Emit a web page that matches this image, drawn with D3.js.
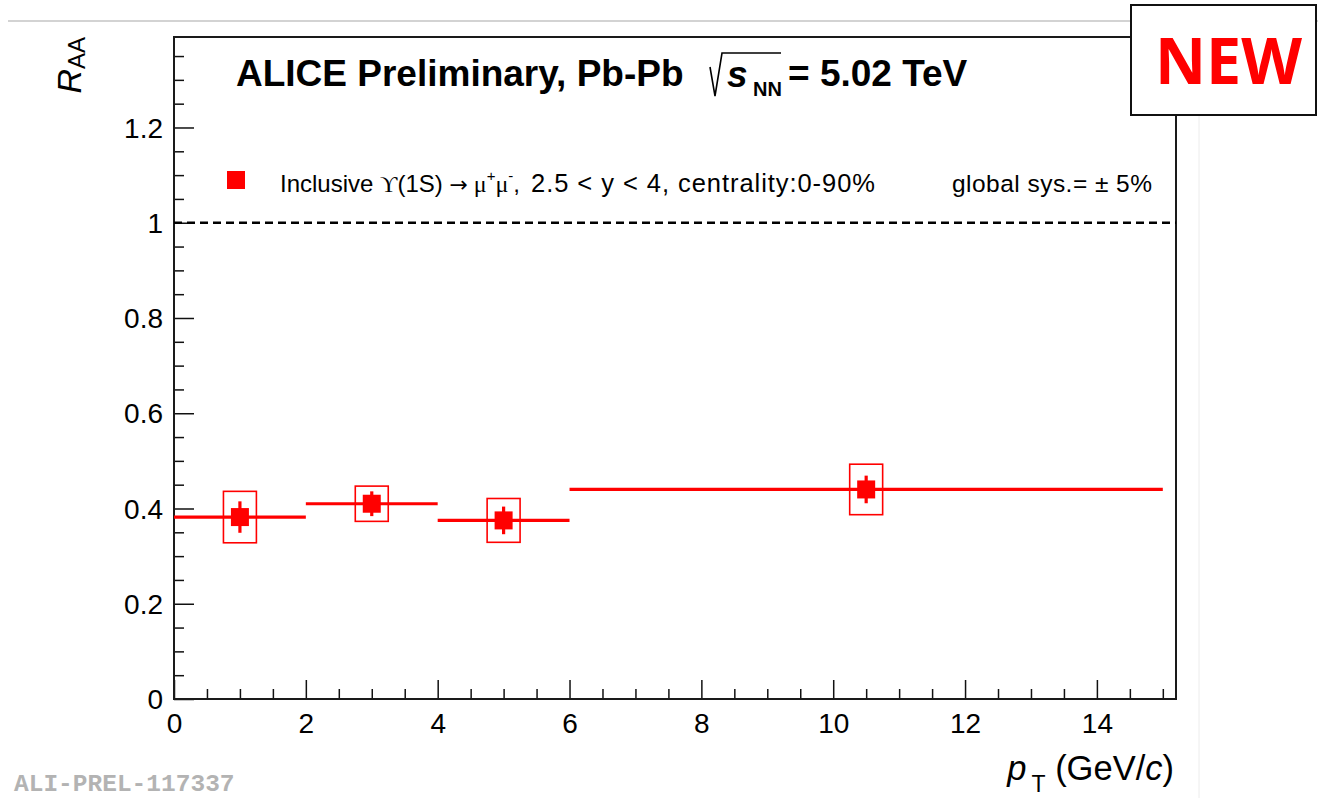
<!DOCTYPE html>
<html>
<head>
<meta charset="utf-8">
<script src="https://cdn.jsdelivr.net/npm/d3@7"></script>
<style>
  html, body { margin: 0; padding: 0; background: #fff; }
  svg { display: block; font-family: "Liberation Sans", Arial, Helvetica, sans-serif; }
</style>
</head>
<body>
<svg id="chart" width="1318" height="798"></svg>
<script>
// ---- data ----
const binLow   = [0, 2, 4, 6];
const binHigh  = [2, 4, 6, 15];
const ptCenter = [1, 3, 5, 10.5];
const raa      = [0.382, 0.410, 0.375, 0.440];
const statErr  = [0.033, 0.026, 0.029, 0.029];
const sysErr   = [0.054, 0.037, 0.046, 0.053];
const sysHalfWidth = 0.25; // pT half-width of the systematic boxes
const xMajorTicks = [0, 2, 4, 6, 8, 10, 12, 14];
const yMajorTicks = [0, 0.2, 0.4, 0.6, 0.8, 1.0, 1.2];
const xDomain = [0, 15.2];
const yDomain = [0, 1.39];
const referenceLine = 1;

(function () {
const svg = d3.select("#chart");
const W = 1318, H = 798;
const pL = 174, pR = 1176, pT = 37, pB = 699;
const SANS = '"Liberation Sans", Arial, Helvetica, sans-serif';
const SERIF = '"Liberation Serif", "DejaVu Serif", serif';

const x = d3.scaleLinear().domain(xDomain).range([pL, pR]);
const y = d3.scaleLinear().domain(yDomain).range([pB, pT]);

// page decorations
svg.append("rect").attr("width", W).attr("height", H).attr("fill", "#fff");
svg.append("line").attr("x1", 8).attr("x2", W).attr("y1", 21).attr("y2", 21)
  .attr("stroke", "#c4c4c4").attr("stroke-width", 1.5);
svg.append("line").attr("x1", 1199).attr("x2", 1199).attr("y1", 115).attr("y2", H)
  .attr("stroke", "#ececec").attr("stroke-width", 1);

// minor ticks
const xMinor = d3.range(0, 15.0001, 0.5).filter(v => !xMajorTicks.includes(v));
const yMinor = d3.range(0, 1.39, 0.05).map(v => +v.toFixed(2)).filter(v => !yMajorTicks.some(t => Math.abs(t - v) < 1e-6));

const fmt = d => String(+(+d).toFixed(1));

const gx = svg.append("g").attr("transform", `translate(0,${pB})`)
  .call(d3.axisBottom(x).tickValues(xMajorTicks).tickSize(-19).tickPadding(14).tickFormat(fmt));
const gxm = svg.append("g").attr("transform", `translate(0,${pB})`)
  .call(d3.axisBottom(x).tickValues(xMinor).tickSize(-10).tickFormat(""));
const gy = svg.append("g").attr("transform", `translate(${pL},0)`)
  .call(d3.axisLeft(y).tickValues(yMajorTicks).tickSize(-20).tickPadding(11).tickFormat(fmt));
const gym = svg.append("g").attr("transform", `translate(${pL},0)`)
  .call(d3.axisLeft(y).tickValues(yMinor).tickSize(-10).tickFormat(""));
[gx, gxm, gy, gym].forEach(g => {
  g.attr("font-family", null).attr("font-size", null);
  g.select(".domain").remove();
  g.selectAll(".tick line").attr("stroke", "#111").attr("stroke-width", 1.5);
  g.selectAll("text").style("font-size", "28px").style("font-family", SANS).attr("fill", "#000");
});
gy.selectAll("text").attr("dy", "0.34em");

// frame
svg.append("rect").attr("x", pL).attr("y", pT)
  .attr("width", pR - pL).attr("height", pB - pT)
  .attr("fill", "none").attr("stroke", "#1a1a1a").attr("stroke-width", 2);

// reference line at 1
svg.append("line").attr("x1", x(xDomain[0])).attr("x2", x(xDomain[1]))
  .attr("y1", y(referenceLine)).attr("y2", y(referenceLine))
  .attr("stroke", "#000").attr("stroke-width", 2.5).attr("stroke-dasharray", "8,5");

// data
const pts = ptCenter.map((c, i) => ({c, lo: binLow[i], hi: binHigh[i], v: raa[i], s: statErr[i], sy: sysErr[i]}));
const red = "#ff0000";
const gd = svg.append("g");
gd.selectAll("line.bin").data(pts).join("line").attr("class", "bin")
  .attr("x1", d => x(d.lo)).attr("x2", d => x(d.hi))
  .attr("y1", d => y(d.v)).attr("y2", d => y(d.v))
  .attr("stroke", red).attr("stroke-width", 3.2);
gd.selectAll("rect.sys").data(pts).join("rect").attr("class", "sys")
  .attr("x", d => x(d.c - sysHalfWidth)).attr("width", d => x(d.c + sysHalfWidth) - x(d.c - sysHalfWidth))
  .attr("y", d => y(d.v + d.sy)).attr("height", d => y(d.v - d.sy) - y(d.v + d.sy))
  .attr("fill", "none").attr("stroke", red).attr("stroke-width", 1.6);
gd.selectAll("line.stat").data(pts).join("line").attr("class", "stat")
  .attr("x1", d => x(d.c)).attr("x2", d => x(d.c))
  .attr("y1", d => y(d.v + d.s)).attr("y2", d => y(d.v - d.s))
  .attr("stroke", red).attr("stroke-width", 3.2);
const ms = 18;
gd.selectAll("rect.mk").data(pts).join("rect").attr("class", "mk")
  .attr("x", d => x(d.c) - ms / 2).attr("y", d => y(d.v) - ms / 2)
  .attr("width", ms).attr("height", ms).attr("fill", red);

// helper for text
function txt(sel, px, py, size, opts = {}) {
  const t = sel.append("text").attr("x", px).attr("y", py)
    .style("font-size", size + "px").style("font-family", opts.family || SANS)
    .attr("fill", opts.fill || "#000");
  if (opts.bold) t.style("font-weight", "bold");
  if (opts.italic) t.style("font-style", "italic");
  if (opts.anchor) t.attr("text-anchor", opts.anchor);
  return t;
}

// title
const title = svg.append("g");
txt(title, 236, 86, 37, {bold: true}).text("ALICE Preliminary, Pb-Pb");
title.append("path").attr("d", "M710,67 L715,96 L722,53 L781,53")
  .attr("fill", "none").attr("stroke", "#000").attr("stroke-width", 1.6);
txt(title, 727, 87, 37, {bold: true, italic: true}).text("s");
txt(title, 753, 96, 20, {bold: true}).text("NN");
txt(title, 788, 86, 37, {bold: true}).text("= 5.02 TeV");

// legend
svg.append("rect").attr("x", 236 - ms / 2).attr("y", 180 - ms / 2).attr("width", ms).attr("height", ms).attr("fill", red);
const lt = txt(svg, 280, 192, 24);
lt.append("tspan").text("Inclusive ");
lt.append("tspan").style("font-family", SERIF).text("ϒ");
lt.append("tspan").text("(1S) ");
lt.append("tspan").style("font-family", '"DejaVu Sans", sans-serif').style("font-size", "22px").text("→");
lt.append("tspan").style("font-family", SERIF).text(" μ");
lt.append("tspan").style("font-size", "15px").attr("dy", -11).text("+");
lt.append("tspan").style("font-family", SERIF).attr("dy", 11).text("μ");
lt.append("tspan").style("font-size", "15px").attr("dy", -11).text("-");
lt.append("tspan").attr("dy", 11).text(",");
txt(svg, 531, 192, 25.5).attr("textLength", 344).attr("lengthAdjust", "spacing")
  .text("2.5 < y < 4, centrality:0-90%");

txt(svg, 952, 192, 24.5).attr("textLength", 200).attr("lengthAdjust", "spacing")
  .text("global sys.= ± 5%");

// axis titles
const yt = svg.append("text").attr("transform", `translate(81,${pT}) rotate(-90)`)
  .attr("text-anchor", "end").style("font-size", "34px").style("font-family", SANS);
yt.append("tspan").style("font-style", "italic").text("R");
yt.append("tspan").style("font-size", "24px").attr("dy", 4).text("AA");

const xt = txt(svg, 1174, 780, 34.5, {anchor: "end"});
xt.append("tspan").style("font-style", "italic").text("p");
xt.append("tspan").style("font-size", "23px").attr("dy", 12).attr("dx", 5).text("T");
xt.append("tspan").attr("dy", -12).text(" (GeV/");
xt.append("tspan").style("font-style", "italic").text("c");
xt.append("tspan").text(")");

// watermark id
txt(svg, 14, 791, 24.5, {bold: true, family: '"Liberation Mono", "Courier New", monospace', fill: "#b3b3b3"})
  .text("ALI-PREL-117337");

// NEW box
svg.append("rect").attr("x", 1131).attr("y", 5).attr("width", 185).attr("height", 110)
  .attr("fill", "#fff").attr("stroke", "#111").attr("stroke-width", 2);
txt(svg, 1228.5, 84, 65, {bold: true, anchor: "middle", fill: red, family: '"Open Sans", "Liberation Sans", sans-serif'})
  .attr("textLength", 147).attr("lengthAdjust", "spacingAndGlyphs").text("NEW");
})();
</script>
</body>
</html>
